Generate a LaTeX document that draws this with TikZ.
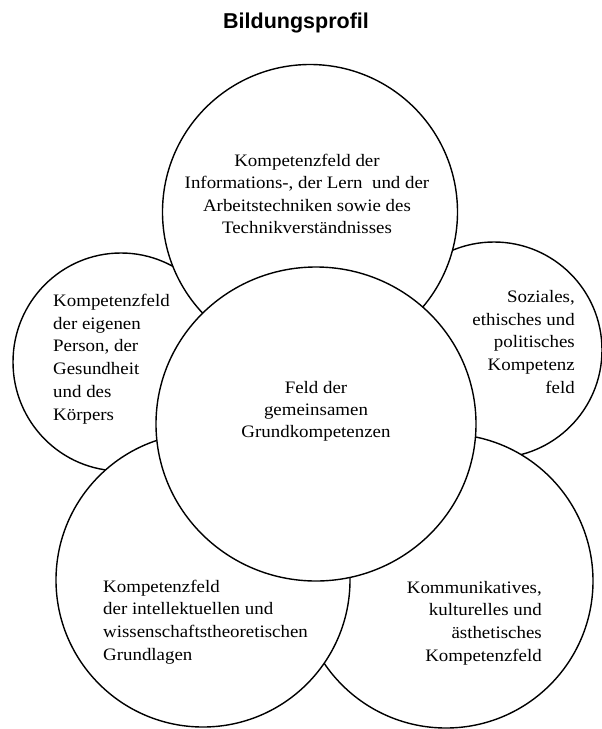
\documentclass[tikz,border=0pt]{standalone}
\usepackage{fontspec}
\setmainfont{Liberation Serif}[FakeStretch=1.08]
\newfontfamily\titlefont{Liberation Sans}
\usetikzlibrary{shapes.geometric}
\begin{document}
\begin{tikzpicture}[x=1pt,y=-1pt,
  field/.style={draw=black,fill=white,line width=1.4pt,inner sep=0pt},
  lbl/.style={inner sep=0pt,font=\fontsize{17.5}{22.6}\selectfont}]
\useasboundingbox[fill=white] (0,0) rectangle (602,729);
\node[anchor=base,inner sep=0pt,font=\titlefont\bfseries\fontsize{21.5}{24}\selectfont] (title) at (296,28) {Bildungsprofil};
\node[field,ellipse,minimum width=216pt,minimum height=218pt] (left) at (121,362) {};
\node[field,circle,minimum size=216pt] (right) at (494,350) {};
\node[field,circle,minimum size=295pt] (top) at (310,212) {};
\node[field,circle,minimum size=294pt] (bright) at (446,581) {};
\node[field,circle,minimum size=294pt] (bleft) at (203,580) {};
\node[field,ellipse,minimum width=320pt,minimum height=314pt] (center) at (316,424) {};
\node[lbl,align=center] (ttop) at (307,194) {Kompetenzfeld der\\Informations-, der Lern\ \ und der\\Arbeitstechniken sowie des\\Technikverständnisses};
\node[lbl,align=left,anchor=west,font=\fontsize{17.5}{22.8}\selectfont] (tleft) at (53,359) {Kompetenzfeld\\der eigenen\\Person, der\\Gesundheit\\und des\\Körpers};
\node[lbl,align=right,anchor=east] (tright) at (575,342) {Soziales,\\ethisches und\\politisches\\Kompetenz\\feld};
\node[lbl,align=center,font=\fontsize{17.5}{22}\selectfont] (tcenter) at (316,411) {Feld der\\gemeinsamen\\Grundkompetenzen};
\node[lbl,align=left,anchor=west] (tbleft) at (103,622) {Kompetenzfeld\\der intellektuellen und\\wissenschaftstheoretischen\\Grundlagen};
\node[lbl,align=right,anchor=east] (tbright) at (542,623) {Kommunikatives,\\kulturelles und\\ästhetisches\\Kompetenzfeld};
\end{tikzpicture}
\end{document}
